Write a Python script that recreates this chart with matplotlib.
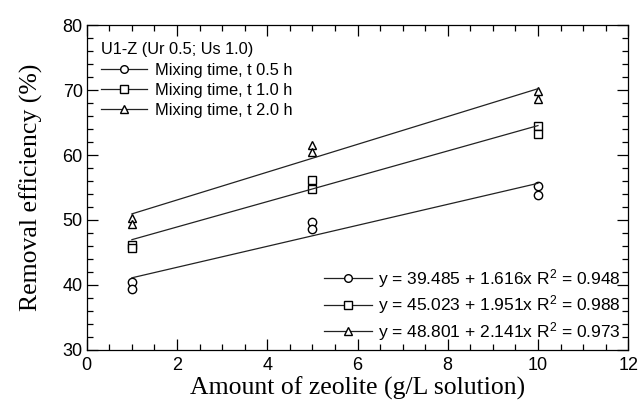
import matplotlib
matplotlib.use("Agg")
import matplotlib.pyplot as plt
from matplotlib.lines import Line2D
from matplotlib.ticker import MultipleLocator
import numpy as np

plt.rcParams['font.family'] = 'Liberation Sans'
plt.rcParams['mathtext.fontset'] = 'custom'
plt.rcParams['mathtext.rm'] = 'Liberation Sans'
plt.rcParams['mathtext.default'] = 'regular'

# data (two replicates per dose)
dose = [1, 1, 5, 5, 10, 10]
t05 = [40.4, 39.4, 49.7, 48.6, 55.2, 53.9]
t10 = [46.2, 45.7, 56.1, 54.8, 64.5, 63.3]
t20 = [50.3, 49.4, 61.5, 60.5, 69.8, 68.6]

intercepts = [39.485, 45.023, 48.801]
slopes = [1.616, 1.951, 2.141]
r2 = [0.948, 0.988, 0.973]
markers = ['o', 's', '^']
labels = ["Mixing time, t 0.5 h", "Mixing time, t 1.0 h", "Mixing time, t 2.0 h"]

fig = plt.figure(figsize=(6.43, 4.05), dpi=100)
ax = fig.add_axes([0.135, 0.136, 0.842, 0.802])

xfit = np.array([1, 10])
for yv, m, b0, b1 in zip([t05, t10, t20], markers, intercepts, slopes):
    ax.plot(dose, yv, ls='none', marker=m, mfc='white', mec='black', ms=6, mew=1)
    ax.plot(xfit, b0 + b1 * xfit, color='#222222', lw=0.9)

ax.set_xlim(0, 12)
ax.set_ylim(30, 80)
ax.xaxis.set_major_locator(MultipleLocator(2))
ax.xaxis.set_minor_locator(MultipleLocator(0.5))
ax.yaxis.set_major_locator(MultipleLocator(10))
ax.yaxis.set_minor_locator(MultipleLocator(2))
ax.tick_params(which='both', direction='in', top=True, right=True, labelsize=13, width=0.9)
ax.tick_params(which='major', length=8, pad=3)
ax.tick_params(axis='x', which='major', pad=5)
ax.tick_params(which='minor', length=4)
for s in ax.spines.values():
    s.set_linewidth(0.9)

ax.set_xlabel("Amount of zeolite (g/L solution)", family='Liberation Serif', fontsize=18.5, labelpad=2)
ax.set_ylabel("Removal efficiency (%)", family='Liberation Serif', fontsize=18.5, labelpad=14)

handles = [Line2D([], [], color='#222222', lw=0.9, marker=m, mfc='white', mec='black', ms=5.5)
           for m in markers]
leg1 = ax.legend(handles, labels, title="U1-Z (Ur 0.5; Us 1.0)", loc='upper left',
                 frameon=False, fontsize=11.8, title_fontsize=11.8, handlelength=2.8,
                 handletextpad=0.45, labelspacing=0.32, borderaxespad=0.65,
                 bbox_to_anchor=(-0.005, 1.0))
leg1._legend_box.align = 'left'
ax.add_artist(leg1)

eq_labels = ["y = %.3f + %.3fx R$^2$ = %.3f" % (b0, b1, r) for b0, b1, r in zip(intercepts, slopes, r2)]
ax.legend(handles, eq_labels, loc='lower right', frameon=False, fontsize=12.5,
          handlelength=2.8, handletextpad=0.35, labelspacing=0.22, borderaxespad=0.0)

fig.savefig("out.png", dpi=100)
